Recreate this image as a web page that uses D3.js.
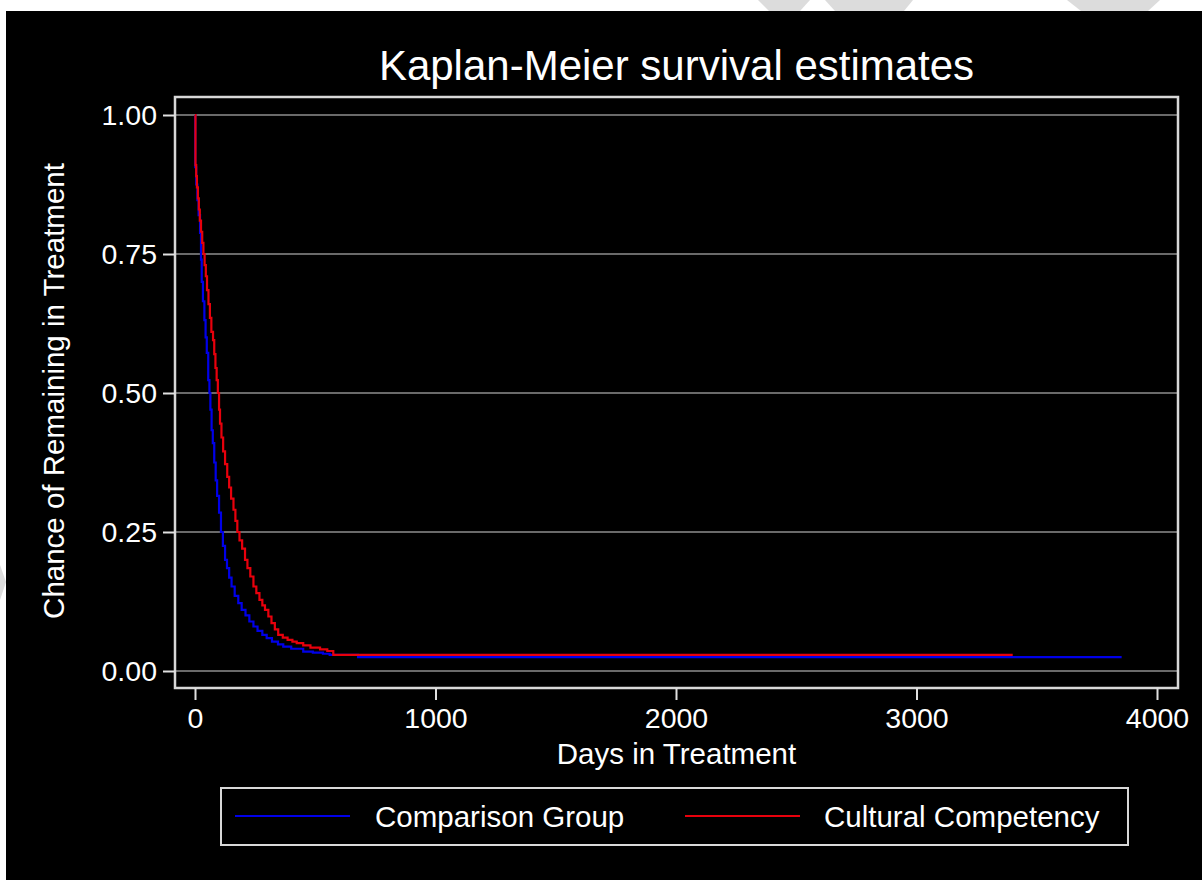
<!DOCTYPE html>
<html>
<head>
<meta charset="utf-8">
<script src="https://cdn.jsdelivr.net/npm/d3@7/dist/d3.min.js"></script>
<style>
  html, body { margin: 0; padding: 0; background: #ffffff; }
  svg { display: block; }
  text { font-family: "Liberation Sans", Arial, sans-serif; fill: #ffffff; }
</style>
</head>
<body>
<svg id="chart" width="1202" height="880"></svg>
<script>
// ---- Data ----
const seriesNames = ["Comparison Group", "Cultural Competency"];

// Comparison Group: [day, survival]
const comparisonDays = [0, 1, 5, 10, 15, 21, 25, 28, 33, 39, 44, 49, 55, 60, 64, 69, 74, 80, 86, 92, 100, 108, 116, 125, 133, 142, 152, 165, 180, 194, 210, 226, 243, 260, 280, 298, 320, 345, 367, 400, 450, 490, 532, 560, 678, 3853];
const comparisonSurv = [1.00, 0.906, 0.875, 0.847, 0.82, 0.788, 0.74, 0.70, 0.665, 0.631, 0.60, 0.572, 0.523, 0.50, 0.47, 0.433, 0.41, 0.375, 0.343, 0.315, 0.285, 0.25, 0.225, 0.20, 0.185, 0.168, 0.152, 0.135, 0.122, 0.110, 0.100, 0.089, 0.080, 0.072, 0.065, 0.059, 0.053, 0.048, 0.044, 0.040, 0.035, 0.033, 0.031, 0.029, 0.025, 0.025];

// Cultural Competency: [day, survival]
const culturalDays = [0, 2, 5, 8, 12, 16, 20, 25, 30, 35, 40, 45, 50, 56, 62, 68, 75, 80, 85, 90, 95, 100, 104, 110, 117, 125, 134, 142, 150, 160, 168, 176, 185, 196, 208, 218, 230, 243, 255, 268, 280, 291, 305, 318, 332, 346, 365, 385, 405, 423, 450, 480, 520, 550, 575, 3400];
const culturalSurv = [1.00, 0.91, 0.89, 0.87, 0.85, 0.83, 0.81, 0.79, 0.77, 0.75, 0.73, 0.71, 0.685, 0.66, 0.635, 0.61, 0.595, 0.57, 0.545, 0.523, 0.50, 0.47, 0.445, 0.42, 0.395, 0.372, 0.349, 0.33, 0.31, 0.29, 0.27, 0.25, 0.235, 0.22, 0.20, 0.185, 0.17, 0.152, 0.14, 0.128, 0.118, 0.110, 0.098, 0.086, 0.075, 0.065, 0.060, 0.056, 0.053, 0.050, 0.046, 0.042, 0.039, 0.036, 0.029, 0.029];

const xTicks = [0, 1000, 2000, 3000, 4000];
const yTicks = [0, 0.25, 0.5, 0.75, 1.0];
const yTickLabels = ["0.00", "0.25", "0.50", "0.75", "1.00"];

const titleText = "Kaplan-Meier survival estimates";
const xTitle = "Days in Treatment";
const yTitle = "Chance of Remaining in Treatment";
const colors = ["#0000e8", "#e8000c"];

// ---- Drawing ----
const svg = d3.select("#chart");

// faint watermark shapes visible in the white top strip
const marks = [
  [[758,0],[810,0],[800,11],[769,11]],
  [[825,0],[913,0],[904,11],[835,11]],
  [[1067,0],[1160,0],[1148,11],[1081,11]],
  [[0,565],[6,582],[0,600]]
];
svg.selectAll("polygon.wm").data(marks).join("polygon")
  .attr("class", "wm")
  .attr("points", d => d.map(p => p.join(",")).join(" "))
  .attr("fill", "#dcdcdc");

// black graph region
svg.append("rect").attr("x", 6).attr("y", 11).attr("width", 1196).attr("height", 869).attr("fill", "#000000");

const frame = { left: 175, top: 97, right: 1178, bottom: 688 };

const x = d3.scaleLinear().domain([0, 4000]).range([195, 1157]);
const y = d3.scaleLinear().domain([0, 1]).range([671, 115]);

// gridlines
svg.append("g").selectAll("line").data(yTicks).join("line")
  .attr("x1", frame.left).attr("x2", frame.right)
  .attr("y1", d => y(d)).attr("y2", d => y(d))
  .attr("stroke", "#6a6a6a").attr("stroke-width", 2);

// plot frame
svg.append("rect")
  .attr("x", frame.left).attr("y", frame.top)
  .attr("width", frame.right - frame.left).attr("height", frame.bottom - frame.top)
  .attr("fill", "none").attr("stroke", "#d8d8d8").attr("stroke-width", 2.5);

// y axis
const yAxis = d3.axisLeft(y).tickValues(yTicks).tickSize(12).tickPadding(6)
  .tickFormat((d, i) => yTickLabels[i]);
const gy = svg.append("g").attr("transform", `translate(${frame.left},0)`).call(yAxis);
gy.select(".domain").remove();
gy.selectAll(".tick line").attr("stroke", "#e0e0e0").attr("stroke-width", 2);
gy.selectAll(".tick text").attr("font-size", 28.5).attr("fill", "#ffffff")
  .style("font-family", '"Liberation Sans", Arial, sans-serif');

// x axis
const xAxis = d3.axisBottom(x).tickValues(xTicks).tickSize(12).tickPadding(8).tickFormat(d3.format("d"));
const gx = svg.append("g").attr("transform", `translate(0,${frame.bottom})`).call(xAxis);
gx.select(".domain").remove();
gx.selectAll(".tick line").attr("stroke", "#e0e0e0").attr("stroke-width", 2);
gx.selectAll(".tick text").attr("font-size", 28.5).attr("fill", "#ffffff")
  .style("font-family", '"Liberation Sans", Arial, sans-serif');

// curves
const series = [
  { name: seriesNames[0], days: comparisonDays, surv: comparisonSurv, color: colors[0] },
  { name: seriesNames[1], days: culturalDays, surv: culturalSurv, color: colors[1] }
];
const line = d3.line().x(d => x(d[0])).y(d => y(d[1])).curve(d3.curveStepAfter);
svg.append("g").selectAll("path").data(series).join("path")
  .attr("d", s => line(s.days.map((dd, i) => [dd, s.surv[i]])))
  .attr("fill", "none").attr("stroke", s => s.color).attr("stroke-width", 2.2);

// titles
svg.append("text").attr("x", 676.5).attr("y", 80).attr("text-anchor", "middle")
  .attr("font-size", 42).text(titleText);
svg.append("text").attr("x", 676.5).attr("y", 764).attr("text-anchor", "middle")
  .attr("font-size", 29.5).text(xTitle);
svg.append("text").attr("transform", "translate(64,391) rotate(-90)").attr("text-anchor", "middle")
  .attr("font-size", 29.5).text(yTitle);

// legend
const lg = svg.append("g");
lg.append("rect").attr("x", 221).attr("y", 788).attr("width", 907).attr("height", 57)
  .attr("fill", "#000").attr("stroke", "#d8d8d8").attr("stroke-width", 2);
const legendItems = [
  { x1: 235, x2: 350, tx: 375 },
  { x1: 685, x2: 800, tx: 824 }
];
legendItems.forEach((it, i) => {
  lg.append("line").attr("x1", it.x1).attr("x2", it.x2).attr("y1", 816).attr("y2", 816)
    .attr("stroke", colors[i]).attr("stroke-width", 2.2);
  lg.append("text").attr("x", it.tx).attr("y", 827).attr("font-size", 29.5).text(seriesNames[i]);
});
</script>
</body>
</html>
